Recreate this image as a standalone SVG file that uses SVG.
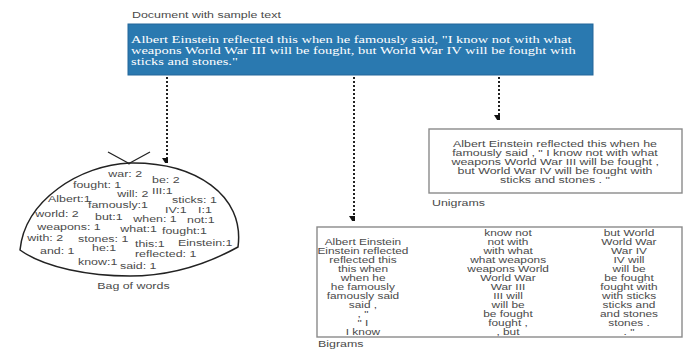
<svg xmlns="http://www.w3.org/2000/svg" width="686" height="349" viewBox="0 0 686 349">
  <style>
    .s { font-family: "Liberation Sans", Arial, sans-serif; font-size: 9px; fill: #4a4a4a; }
    .b { font-size: 8.6px; }
    .r { font-family: "Liberation Serif", "Times New Roman", serif; font-size: 10.5px; fill: #fff; }
    .w { transform-box: fill-box; transform: scaleX(1.38); }
    .l { transform-origin: 0% 50%; }
    .c { transform-origin: 50% 50%; text-anchor: middle; }
    .box { fill: #fff; stroke: #8a8a8a; stroke-width: 1.4; }
    .dot { fill: none; stroke: #222; stroke-width: 2; stroke-dasharray: 2 2; marker-end: url(#head); }
  </style>
  <defs>
    <marker id="head" markerUnits="userSpaceOnUse" markerWidth="10" markerHeight="9" refX="5" refY="0" orient="auto-start-reverse" viewBox="0 -1 10 9">
      <path d="M0,0 L10,0 L5,8 Z" fill="#111" transform="rotate(-90 5 0)"/>
    </marker>
  </defs>

  <!-- source document -->
  <g id="document">
    <text class="s w l" x="132" y="18.5">Document with sample text</text>
    <rect x="128" y="24" width="465" height="51" fill="#2a79b0" stroke="#22679a" stroke-width="1"/>
    <text class="r w l" x="131" y="43">Albert Einstein reflected this when he famously said, "I know not with what</text>
    <text class="r w l" x="131" y="54">weapons World War III will be fought, but World War IV will be fought with</text>
    <text class="r w l" x="131" y="65">sticks and stones."</text>
  </g>

  <!-- dotted connectors -->
  <g id="connectors">
    <path class="dot" d="M167,77 V158"/>
    <path class="dot" d="M354,77 V216"/>
    <path class="dot" d="M499,77 V115"/>
  </g>

  <!-- bag of words -->
  <g id="bag">
    <path d="M20,250 C25,200 80,165 130,163 C195,162 245,195 238,247 C200,268 165,276 130,276 C90,276 45,268 20,250 Z" fill="#fff" stroke="#222" stroke-width="1.5"/>
    <path d="M108,152 L130,164 M150,152 L128,164" fill="none" stroke="#222" stroke-width="1.3"/>
    <text class="s w l" x="108" y="177">war: 2</text>
    <text class="s w l" x="152" y="183">be: 2</text>
    <text class="s w l" x="73" y="188">fought: 1</text>
    <text class="s w l" x="117" y="197">will: 2</text>
    <text class="s w l" x="152" y="194">III:1</text>
    <text class="s w l" x="48" y="202">Albert:1</text>
    <text class="s w l" x="172" y="203">sticks: 1</text>
    <text class="s w l" x="88" y="208">famously:1</text>
    <text class="s w l" x="35" y="217">world: 2</text>
    <text class="s w l" x="165" y="213">IV:1</text>
    <text class="s w l" x="198" y="213">I:1</text>
    <text class="s w l" x="95" y="220">but:1</text>
    <text class="s w l" x="133" y="222">when: 1</text>
    <text class="s w l" x="187" y="223">not:1</text>
    <text class="s w l" x="37" y="230">weapons: 1</text>
    <text class="s w l" x="120" y="232">what:1</text>
    <text class="s w l" x="162" y="234">fought:1</text>
    <text class="s w l" x="27" y="241">with: 2</text>
    <text class="s w l" x="78" y="242">stones: 1</text>
    <text class="s w l" x="135" y="247">this:1</text>
    <text class="s w l" x="178" y="246">Einstein:1</text>
    <text class="s w l" x="40" y="254">and: 1</text>
    <text class="s w l" x="92" y="251">he:1</text>
    <text class="s w l" x="135" y="257">reflected: 1</text>
    <text class="s w l" x="78" y="265">know:1</text>
    <text class="s w l" x="120" y="269">said: 1</text>
    <text class="s w c" x="133.5" y="289">Bag of words</text>
  </g>

  <!-- unigrams -->
  <g id="unigrams">
    <rect class="box" x="429" y="129" width="253" height="64"/>
    <text class="s w c" x="555" y="147">Albert Einstein reflected this when he</text>
    <text class="s w c" x="555" y="156">famously said , " I know not with what</text>
    <text class="s w c" x="555" y="165">weapons World War III will be fought ,</text>
    <text class="s w c" x="555" y="174">but World War IV will be fought with</text>
    <text class="s w c" x="555" y="183">sticks and stones . "</text>
    <text class="s w l" x="432" y="206">Unigrams</text>
  </g>

  <!-- bigrams -->
  <g id="bigrams">
    <rect class="box" x="317" y="227" width="365" height="110"/>
    <text class="s b w c" x="363" y="245">Albert Einstein</text>
    <text class="s b w c" x="363" y="254">Einstein reflected</text>
    <text class="s b w c" x="363" y="263">reflected this</text>
    <text class="s b w c" x="363" y="272">this when</text>
    <text class="s b w c" x="363" y="281">when he</text>
    <text class="s b w c" x="363" y="290">he famously</text>
    <text class="s b w c" x="363" y="299">famously said</text>
    <text class="s b w c" x="363" y="308">said ,</text>
    <text class="s b w c" x="363" y="317">, "</text>
    <text class="s b w c" x="363" y="326">" I</text>
    <text class="s b w c" x="363" y="335">I know</text>

    <text class="s b w c" x="508" y="236">know not</text>
    <text class="s b w c" x="508" y="245">not with</text>
    <text class="s b w c" x="508" y="254">with what</text>
    <text class="s b w c" x="508" y="263">what weapons</text>
    <text class="s b w c" x="508" y="272">weapons World</text>
    <text class="s b w c" x="508" y="281">World War</text>
    <text class="s b w c" x="508" y="290">War III</text>
    <text class="s b w c" x="508" y="299">III will</text>
    <text class="s b w c" x="508" y="308">will be</text>
    <text class="s b w c" x="508" y="317">be fought</text>
    <text class="s b w c" x="508" y="326">fought ,</text>
    <text class="s b w c" x="508" y="335">, but</text>

    <text class="s b w c" x="629" y="236">but World</text>
    <text class="s b w c" x="629" y="245">World War</text>
    <text class="s b w c" x="629" y="254">War IV</text>
    <text class="s b w c" x="629" y="263">IV will</text>
    <text class="s b w c" x="629" y="272">will be</text>
    <text class="s b w c" x="629" y="281">be fought</text>
    <text class="s b w c" x="629" y="290">fought with</text>
    <text class="s b w c" x="629" y="299">with sticks</text>
    <text class="s b w c" x="629" y="308">sticks and</text>
    <text class="s b w c" x="629" y="317">and stones</text>
    <text class="s b w c" x="629" y="326">stones .</text>
    <text class="s b w c" x="629" y="335">. "</text>

    <text class="s w l" x="318" y="347">Bigrams</text>
  </g>
</svg>
